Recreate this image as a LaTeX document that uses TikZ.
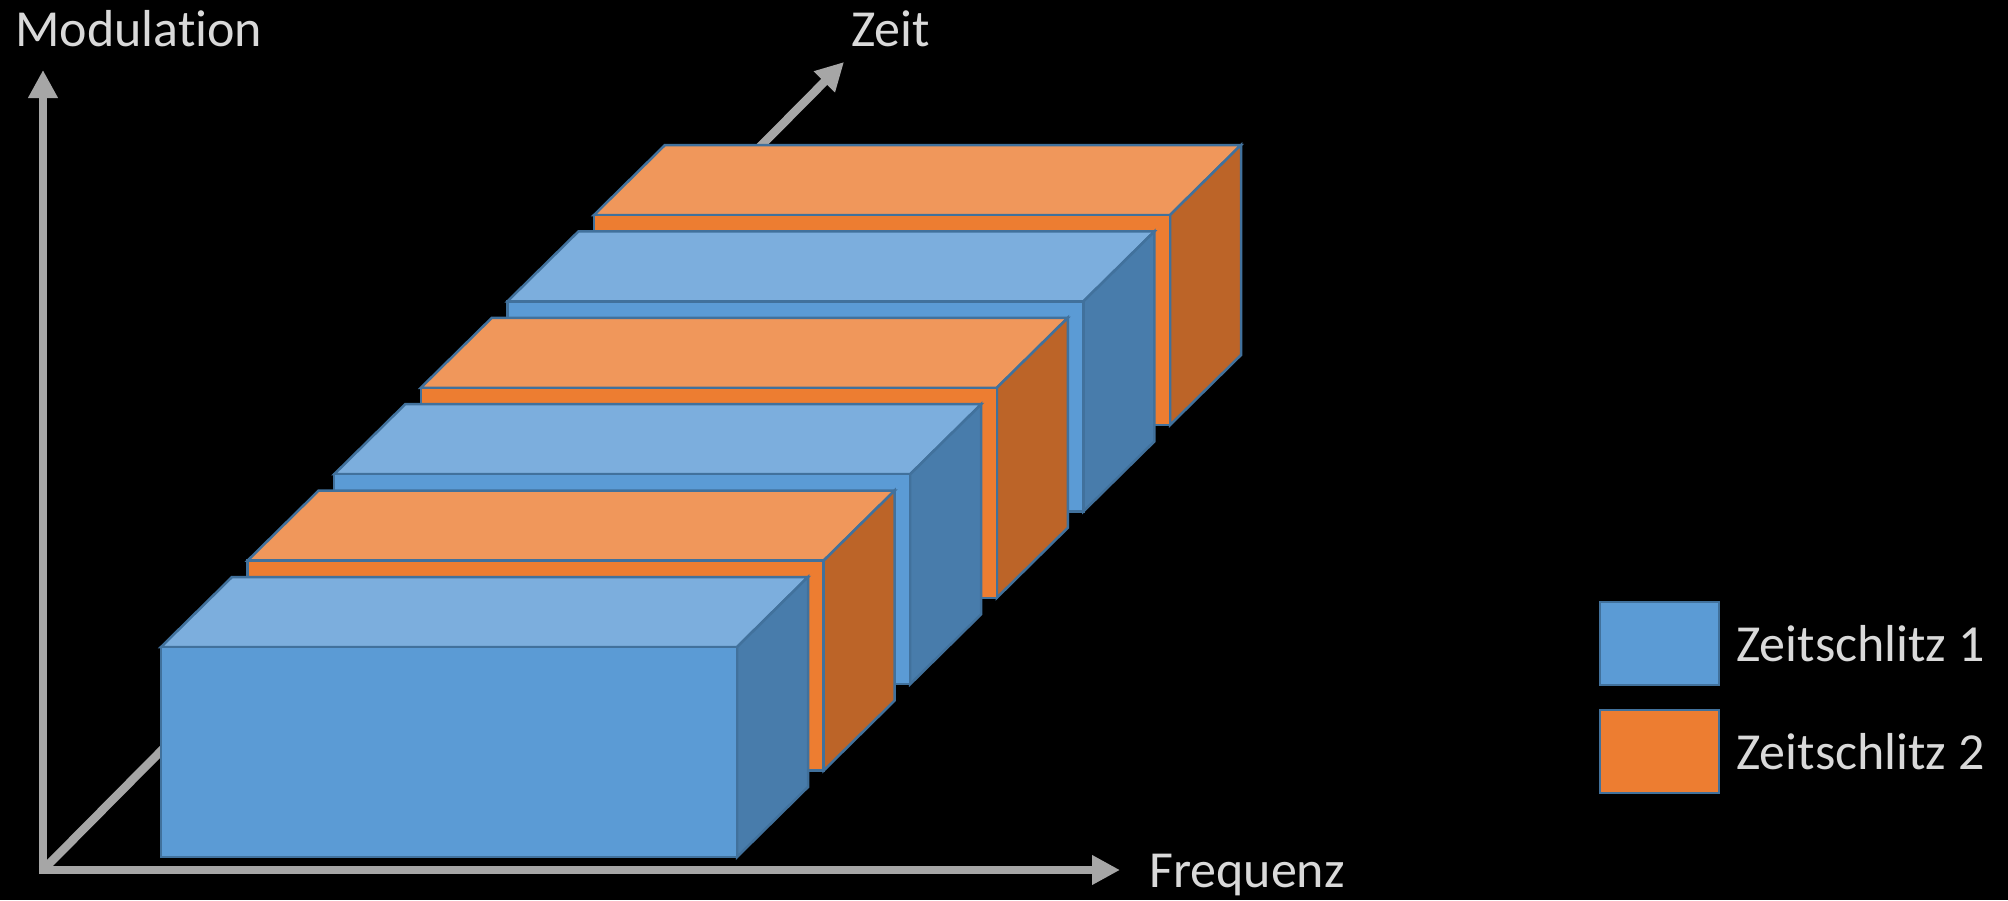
\documentclass[tikz,border=0pt]{standalone}
\usepackage{fontspec}
\setmainfont{Carlito}[Ligatures={NoCommon}]
\usetikzlibrary{arrows.meta}
\definecolor{bfront}{HTML}{5B9BD5}
\definecolor{btop}{HTML}{7CAEDD}
\definecolor{bside}{HTML}{487CAB}
\definecolor{ofront}{HTML}{ED7D31}
\definecolor{otop}{HTML}{F0975B}
\definecolor{oside}{HTML}{BC6428}
\definecolor{edge}{HTML}{41719C}
\definecolor{axisgray}{HTML}{A6A6A6}
\definecolor{txt}{HTML}{D9D9D9}
\tikzset{
  slab/.style={draw=edge, line width=2.5pt, line join=miter},
  axisline/.style={draw=axisgray, line width=8.5pt, -{Triangle[length=28pt,width=28pt]}},
  lbl/.style={text=txt, inner sep=0pt, font=\fontsize{52}{60}\selectfont},
}
\newcommand\drawslab[5]{%
  \begin{scope}[shift={(#1,#2)}]
    \filldraw[slab,fill=#4] (0,0) -- (71,-70) -- (647,-70) -- (576,0) -- cycle;
    \filldraw[slab,fill=#5] (576,0) -- (647,-70) -- (647,140) -- (576,210) -- cycle;
    \filldraw[slab,fill=#3] (0,0) rectangle (576,210);
  \end{scope}}
\begin{document}
\begin{tikzpicture}[x=1pt,y=-1pt]
  \fill[black] (0,0) rectangle (2008,900);
  \useasboundingbox (0,0) rectangle (2008,900);
  % axes
  \coordinate (o) at (43,870);
  \coordinate (ystart) at (43,874.2);
  \coordinate (xstart) at (38.8,870);
  \coordinate (ytip) at (43,70);
  \coordinate (xtip) at (1120,870);
  \coordinate (ztip) at (844,62);
  \draw[axisline] (o) -- (ztip);
  \draw[axisline] (ystart) -- (ytip);
  \draw[axisline] (xstart) -- (xtip);
  % slabs, back to front
  \drawslab{594}{215}{ofront}{otop}{oside}
  \drawslab{507.4}{301.4}{bfront}{btop}{bside}
  \drawslab{420.8}{387.8}{ofront}{otop}{oside}
  \drawslab{334.2}{474.2}{bfront}{btop}{bside}
  \drawslab{247.6}{560.6}{ofront}{otop}{oside}
  \drawslab{161}{647}{bfront}{btop}{bside}
  % axis labels
  \node[lbl, anchor=base west] (mod) at (15,46) {Modulation};
  \node[lbl, anchor=base west] (zeit) at (851,46) {Zeit};
  \node[lbl, anchor=base west] (freq) at (1149,887) {Frequenz};
  % legend
  \filldraw[slab, fill=bfront] (1600,602) rectangle (1719,685);
  \filldraw[slab, fill=ofront] (1600,710) rectangle (1719,793);
  \node[lbl, anchor=base west] (leg1) at (1736,661) {Zeitschlitz 1};
  \node[lbl, anchor=base west] (leg2) at (1736,769) {Zeitschlitz 2};
\end{tikzpicture}
\end{document}
